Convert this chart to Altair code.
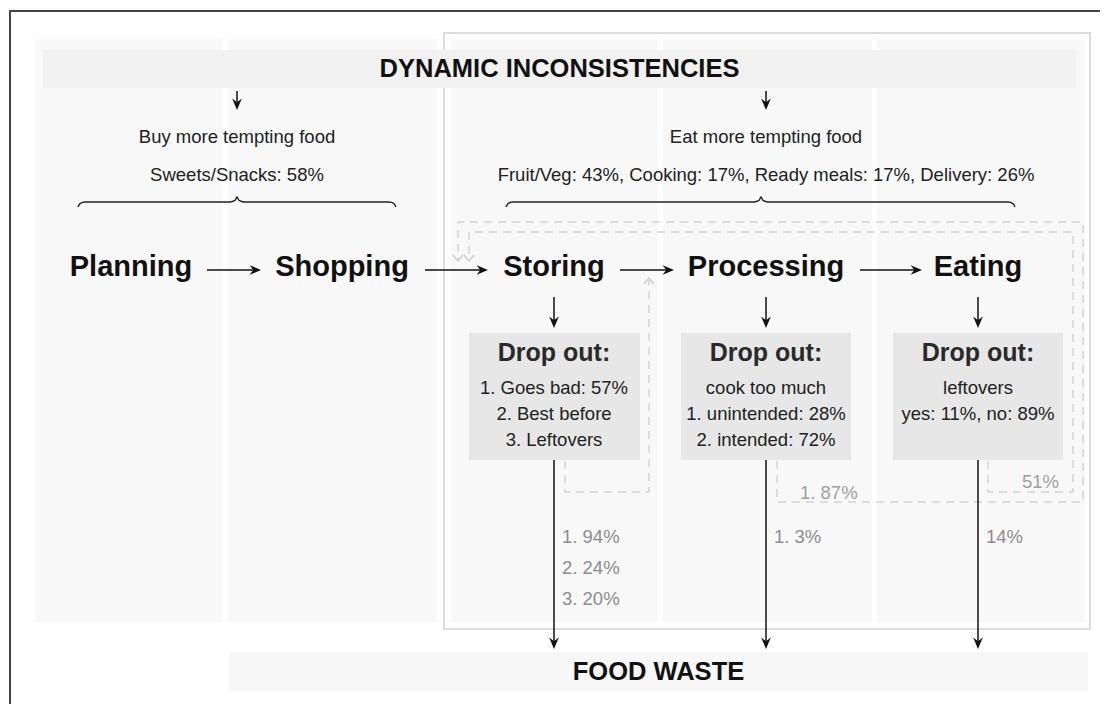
import altair as alt
import pandas as pd

# ---------------- content ----------------
header_top = "DYNAMIC INCONSISTENCIES"
header_bottom = "FOOD WASTE"
stages = ["Planning", "Shopping", "Storing", "Processing", "Eating"]
temptation_titles = ["Buy more tempting food", "Eat more tempting food"]
temptation_values = ["Sweets/Snacks: 58%",
                     "Fruit/Veg: 43%, Cooking: 17%, Ready meals: 17%, Delivery: 26%"]
dropout_title = "Drop out:"
dropout_lines = [
    ["1. Goes bad: 57%", "2. Best before", "3. Leftovers"],
    ["cook too much", "1. unintended: 28%", "2. intended: 72%"],
    ["leftovers", "yes: 11%, no: 89%"],
]
waste_shares = [["1. 94%", "2. 24%", "3. 20%"], ["1. 3%"], ["14%"]]
loop_labels = ["1. 87%", "51%"]

# ---------------- layout (pixel space) ----------------
stage_x = [131, 342, 554, 766, 978]
stage_y = 267
panel_x = [(35, 222), (228, 437), (451, 658), (663, 872), (877, 1085)]
panel_y = (39, 622)
outer_box = (444, 1090, 33, 629)
band_top = (43, 1076, 50, 88)
band_bottom = (229, 1088, 652, 691)
box_x = [(469, 640), (681, 851), (893, 1063)]
box_y = (333, 460)
hz_arrows = [(207, 261), (425, 488), (620, 674), (860, 922)]
tempt_x = [237, 766]
brace_x = [(78, 237, 396), (506, 761, 1015)]
FONT = "Liberation Sans"

xs = alt.Scale(domain=[8, 1100], nice=False, zero=False)
ys = alt.Scale(domain=[8, 704], nice=False, zero=False, reverse=True)


def X(f="x"):
    return alt.X(f"{f}:Q", scale=xs, axis=None)


def Y(f="y"):
    return alt.Y(f"{f}:Q", scale=ys, axis=None)


layers = []

# frame of the figure
frame = pd.DataFrame([
    dict(x=9, x2=1100, y=11, y2=11),
    dict(x=10, x2=10, y=11, y2=704),
])
layers.append(alt.Chart(frame).mark_rule(color="#444444", strokeWidth=2).encode(
    x=X(), x2="x2:Q", y=Y(), y2="y2:Q"))

# outer box
ob = pd.DataFrame([dict(x=outer_box[0], x2=outer_box[1], y=outer_box[2], y2=outer_box[3])])
layers.append(alt.Chart(ob).mark_rect(fill="white", stroke="#dddddd", strokeWidth=2).encode(
    x=X(), x2="x2:Q", y=Y(), y2="y2:Q"))

# column panels
pan = pd.DataFrame([dict(x=a, x2=b, y=panel_y[0], y2=panel_y[1]) for a, b in panel_x])
layers.append(alt.Chart(pan).mark_rect(fill="#f8f8f8").encode(
    x=X(), x2="x2:Q", y=Y(), y2="y2:Q"))

# bands
bands = pd.DataFrame([
    dict(x=band_top[0], x2=band_top[1], y=band_top[2], y2=band_top[3], c="#f1f1f1"),
    dict(x=band_bottom[0], x2=band_bottom[1], y=band_bottom[2], y2=band_bottom[3], c="#f7f7f7"),
])
layers.append(alt.Chart(bands).mark_rect().encode(
    x=X(), x2="x2:Q", y=Y(), y2="y2:Q", color=alt.Color("c:N", scale=None)))

# drop-out boxes
bx = pd.DataFrame([dict(x=a, x2=b, y=box_y[0], y2=box_y[1]) for a, b in box_x])
layers.append(alt.Chart(bx).mark_rect(fill="#e7e7e7").encode(
    x=X(), x2="x2:Q", y=Y(), y2="y2:Q"))

# dashed feedback loops
loops = {
    "store": [(565, 461), (565, 492), (649, 492), (649, 280)],
    "eat": [(988, 461), (988, 492), (1073, 492), (1073, 232), (469, 232), (469, 259)],
    "proc": [(777, 461), (777, 502), (1083, 502), (1083, 222), (458, 222), (458, 259)],
}
rows = []
for k, pts in loops.items():
    for i, (px, py) in enumerate(pts):
        rows.append(dict(path=k, o=i, x=px, y=py))
layers.append(alt.Chart(pd.DataFrame(rows)).mark_line(
    color="#d2d2d2", strokeWidth=1.5, strokeDash=[8, 6]).encode(
    x=X(), y=Y(), detail="path:N", order="o:Q"))

# open chevrons of the loops
chev = pd.DataFrame([
    dict(x=458, y=261, a=0), dict(x=469, y=261, a=0), dict(x=649, y=278, a=180)])
layers.append(alt.Chart(chev).mark_point(
    shape="M-1,-1.2 L0,0 L1,-1.2", filled=False, color="#c8c8c8", strokeWidth=1.2,
    size=100, opacity=1).encode(x=X(), y=Y(), angle=alt.Angle("a:Q", scale=None)))

# solid arrows
shafts = []
heads = []
for a, b in hz_arrows:
    shafts.append(dict(x=a, x2=b - 3, y=270, y2=270))
    heads.append(dict(x=b, y=270, a=0))
for tx in tempt_x:
    shafts.append(dict(x=tx, x2=tx, y=91, y2=107))
    heads.append(dict(x=tx, y=110, a=90))
for sx in stage_x[2:]:
    shafts.append(dict(x=sx, x2=sx, y=297, y2=324))
    heads.append(dict(x=sx, y=328, a=90))
    shafts.append(dict(x=sx, x2=sx, y=460, y2=645))
    heads.append(dict(x=sx, y=649, a=90))
layers.append(alt.Chart(pd.DataFrame(shafts)).mark_rule(color="#111111", strokeWidth=1.5).encode(
    x=X(), x2="x2:Q", y=Y(), y2="y2:Q"))
layers.append(alt.Chart(pd.DataFrame(heads)).mark_point(
    shape="M0,0 L-2,-0.85 L-1.35,0 L-2,0.85 Z", filled=True, color="#111111", size=130,
    opacity=1).encode(x=X(), y=Y(), angle=alt.Angle("a:Q", scale=None)))

# curly braces
brows = []
for j, (x0, xm, x1) in enumerate(brace_x):
    pts = [(x0, 207), (x0 + 2, 203.6), (x0 + 7, 202), (xm - 7, 202), (xm - 2, 200.4),
           (xm, 197), (xm + 2, 200.4), (xm + 7, 202), (x1 - 7, 202), (x1 - 2, 203.6), (x1, 207)]
    for i, (px, py) in enumerate(pts):
        brows.append(dict(b=j, o=i, x=px, y=py))
layers.append(alt.Chart(pd.DataFrame(brows)).mark_line(
    color="#222222", strokeWidth=1.4, interpolate="monotone").encode(
    x=X(), y=Y(), detail="b:N", order="o:Q"))

# ---------------- texts ----------------
bold_rows = [
    dict(t=header_top, x=(band_top[0] + band_top[1]) / 2, y=69, fs=25.5, c="#111111"),
    dict(t=header_bottom, x=(band_bottom[0] + band_bottom[1]) / 2, y=672, fs=25.5, c="#111111"),
]
for s, sx in zip(stages, stage_x):
    bold_rows.append(dict(t=s, x=sx, y=stage_y, fs=29, c="#111111"))
for sx in stage_x[2:]:
    bold_rows.append(dict(t=dropout_title, x=sx, y=353, fs=25, c="#2a2a2a"))
layers.append(alt.Chart(pd.DataFrame(bold_rows)).mark_text(
    font=FONT, fontWeight="bold", align="center", baseline="middle").encode(
    x=X(), y=Y(), text="t:N", size=alt.Size("fs:Q", scale=None),
    color=alt.Color("c:N", scale=None)))

reg_rows = []
for t1, t2, tx in zip(temptation_titles, temptation_values, tempt_x):
    reg_rows.append(dict(t=t1, x=tx, y=137, fs=18.5, c="#222222"))
    reg_rows.append(dict(t=t2, x=tx, y=175, fs=18.5, c="#222222"))
line_y = [388, 414, 440]
for lines, sx in zip(dropout_lines, stage_x[2:]):
    for ln, ly in zip(lines, line_y):
        reg_rows.append(dict(t=ln, x=sx, y=ly, fs=18.5, c="#222222"))
layers.append(alt.Chart(pd.DataFrame(reg_rows)).mark_text(
    font=FONT, align="center", baseline="middle").encode(
    x=X(), y=Y(), text="t:N", size=alt.Size("fs:Q", scale=None),
    color=alt.Color("c:N", scale=None)))

gray_rows = []
share_y = [537, 568, 599]
for shares, sx in zip(waste_shares, stage_x[2:]):
    for sh, sy in zip(shares, share_y):
        gray_rows.append(dict(t=sh, x=sx + 8, y=sy, c="#8c8c8c"))
gray_rows.append(dict(t=loop_labels[0], x=800, y=493, c="#a0a0a0"))
gray_rows.append(dict(t=loop_labels[1], x=1022, y=482, c="#a0a0a0"))
layers.append(alt.Chart(pd.DataFrame(gray_rows)).mark_text(
    font=FONT, align="left", baseline="middle", fontSize=18.5).encode(
    x=X(), y=Y(), text="t:N", color=alt.Color("c:N", scale=None)))

chart = alt.layer(*layers).properties(
    width=1092, height=696, padding=0,
    autosize=alt.AutoSizeParams(type="none"),
    background="white",
).configure_view(stroke=None)

chart.save("out.html", embed_options={"renderer": "svg", "actions": False})
